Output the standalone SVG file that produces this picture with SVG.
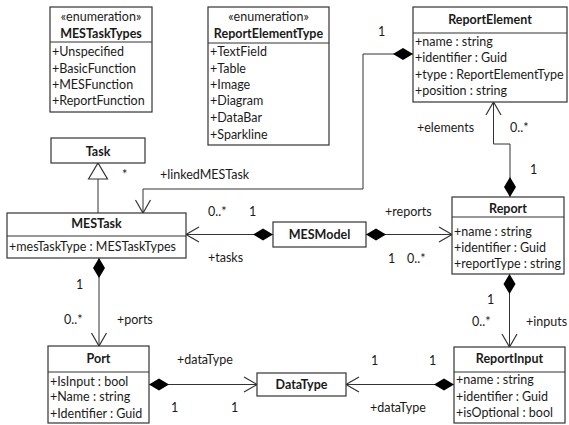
<svg xmlns="http://www.w3.org/2000/svg" width="569" height="425" viewBox="0 0 569 425">
  <style>
    text { font-family: Lato, "Open Sans", "Liberation Sans", sans-serif; font-size: 12.5px; fill: #1a1a1a; }
    .title { font-weight: bold; text-anchor: middle; }
    .stereo { text-anchor: middle; }
    .box { fill: #ffffff; stroke: #333333; stroke-width: 1.2; }
    .sep { stroke: #333333; stroke-width: 1.2; }
    .conn { fill: none; stroke: #333333; stroke-width: 1; }
  </style>
  <defs>
    <marker id="diamond" markerUnits="userSpaceOnUse" markerWidth="22" markerHeight="14" viewBox="0 -7 22 14" refX="0" refY="0" orient="auto">
      <path d="M0,0 L10,-6 L20,0 L10,6 Z" fill="#000000"/>
    </marker>
    <marker id="open" markerUnits="userSpaceOnUse" markerWidth="16" markerHeight="18" viewBox="-14 -9 16 18" refX="0" refY="0" orient="auto">
      <path d="M-13,-7.5 L0,0 L-13,7.5" fill="none" stroke="#333333" stroke-width="1.2"/>
    </marker>
    <marker id="triangle" markerUnits="userSpaceOnUse" markerWidth="20" markerHeight="22" viewBox="-18 -11 20 22" refX="0" refY="0" orient="auto">
      <path d="M-16,-9.5 L0,0 L-16,9.5 Z" fill="#ffffff" stroke="#333333" stroke-width="1.2"/>
    </marker>
  </defs>

  <g id="connectors">
    <path class="conn" d="M98,213 V163" marker-end="url(#triangle)"/>
    <path class="conn" d="M413,54 H363 V189 H143 V213" marker-start="url(#diamond)" marker-end="url(#open)"/>
    <path class="conn" d="M273,234.5 H186" marker-start="url(#diamond)" marker-end="url(#open)"/>
    <path class="conn" d="M366,234.5 H452" marker-start="url(#diamond)" marker-end="url(#open)"/>
    <path class="conn" d="M510,197 V144 H493.5 V102" marker-start="url(#diamond)" marker-end="url(#open)"/>
    <path class="conn" d="M99,258 V346" marker-start="url(#diamond)" marker-end="url(#open)"/>
    <path class="conn" d="M509.5,274 V347" marker-start="url(#diamond)" marker-end="url(#open)"/>
    <path class="conn" d="M149,384.5 H257" marker-start="url(#diamond)" marker-end="url(#open)"/>
    <path class="conn" d="M454,384.5 H346" marker-start="url(#diamond)" marker-end="url(#open)"/>

    <text x="378" y="36">1</text>
    <text x="417" y="132">+elements</text>
    <text x="510" y="132">0..*</text>
    <text x="530" y="174">1</text>
    <text x="122" y="179">*</text>
    <text x="160" y="179">+linkedMESTask</text>
    <text x="208" y="216">0..*</text>
    <text x="249" y="216">1</text>
    <text x="208" y="262">+tasks</text>
    <text x="385" y="216">+reports</text>
    <text x="388" y="263">1</text>
    <text x="407" y="263">0..*</text>
    <text x="76" y="289">1</text>
    <text x="64" y="324">0..*</text>
    <text x="117" y="324">+ports</text>
    <text x="487" y="304">1</text>
    <text x="472" y="326">0..*</text>
    <text x="526" y="326">+inputs</text>
    <text x="177" y="364">+dataType</text>
    <text x="171" y="412">1</text>
    <text x="231" y="412">1</text>
    <text x="371" y="365">1</text>
    <text x="429" y="365">1</text>
    <text x="370" y="412">+dataType</text>
  </g>

  <g id="MESTaskTypes">
    <rect class="box" x="50" y="7" width="102" height="105"/>
    <line class="sep" x1="50" y1="42" x2="152" y2="42"/>
    <text class="stereo" x="101" y="21">«enumeration»</text>
    <text class="title" x="101" y="38">MESTaskTypes</text>
    <text x="52" y="56">+Unspecified</text>
    <text x="52" y="73">+BasicFunction</text>
    <text x="52" y="89">+MESFunction</text>
    <text x="52" y="105">+ReportFunction</text>
  </g>

  <g id="ReportElementType">
    <rect class="box" x="208" y="7" width="121" height="138"/>
    <line class="sep" x1="208" y1="43" x2="329" y2="43"/>
    <text class="stereo" x="268.5" y="21">«enumeration»</text>
    <text class="title" x="268.5" y="38">ReportElementType</text>
    <text x="210" y="56">+TextField</text>
    <text x="210" y="73">+Table</text>
    <text x="210" y="89">+Image</text>
    <text x="210" y="105">+Diagram</text>
    <text x="210" y="122">+DataBar</text>
    <text x="210" y="139">+Sparkline</text>
  </g>

  <g id="ReportElement">
    <rect class="box" x="413" y="7" width="154" height="95"/>
    <line class="sep" x1="413" y1="33" x2="567" y2="33"/>
    <text class="title" x="490" y="24">ReportElement</text>
    <text x="415" y="46">+name : string</text>
    <text x="415" y="62">+identifier : Guid</text>
    <text x="415" y="79">+type : ReportElementType</text>
    <text x="415" y="95">+position : string</text>
  </g>

  <g id="Task">
    <rect class="box" x="51" y="138" width="94" height="25"/>
    <text class="title" x="98" y="156">Task</text>
  </g>

  <g id="MESTask">
    <rect class="box" x="7" y="213" width="179" height="45"/>
    <line class="sep" x1="7" y1="236" x2="186" y2="236"/>
    <text class="title" x="96.5" y="228">MESTask</text>
    <text x="9" y="251">+mesTaskType : MESTaskTypes</text>
  </g>

  <g id="MESModel">
    <rect class="box" x="273" y="222" width="93" height="25"/>
    <text class="title" x="319.5" y="239">MESModel</text>
  </g>

  <g id="Report">
    <rect class="box" x="452" y="197" width="112" height="77"/>
    <line class="sep" x1="452" y1="217" x2="564" y2="217"/>
    <text class="title" x="508" y="213">Report</text>
    <text x="454" y="236">+name : string</text>
    <text x="454" y="252">+identifier : Guid</text>
    <text x="454" y="268">+reportType : string</text>
  </g>

  <g id="Port">
    <rect class="box" x="48" y="346" width="101" height="77"/>
    <line class="sep" x1="48" y1="372" x2="149" y2="372"/>
    <text class="title" x="98.5" y="363">Port</text>
    <text x="50" y="386">+IsInput : bool</text>
    <text x="50" y="401">+Name : string</text>
    <text x="50" y="418">+Identifier : Guid</text>
  </g>

  <g id="DataType">
    <rect class="box" x="257" y="373" width="89" height="23"/>
    <text class="title" x="301.5" y="389">DataType</text>
  </g>

  <g id="ReportInput">
    <rect class="box" x="454" y="347" width="111" height="76"/>
    <line class="sep" x1="454" y1="372" x2="565" y2="372"/>
    <text class="title" x="509.5" y="363">ReportInput</text>
    <text x="456" y="384">+name : string</text>
    <text x="456" y="401">+identifier : Guid</text>
    <text x="456" y="417">+isOptional : bool</text>
  </g>
</svg>
